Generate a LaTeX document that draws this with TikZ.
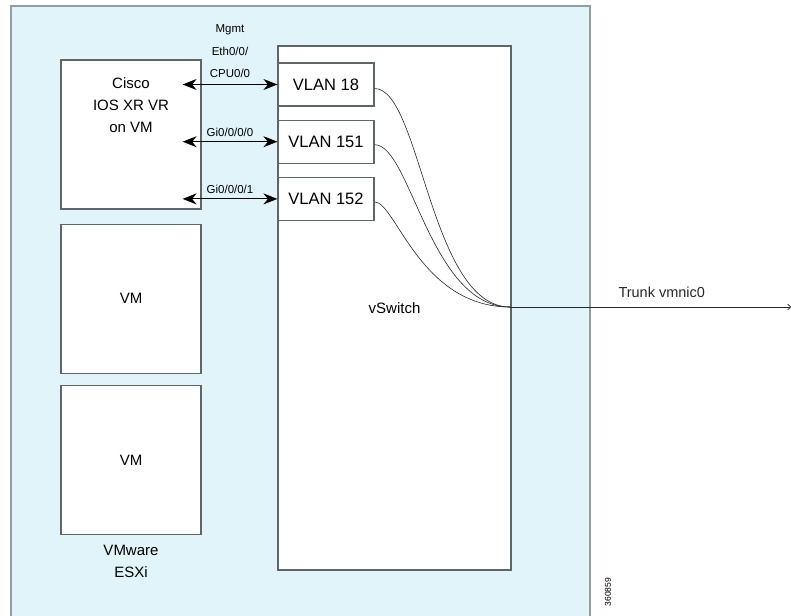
\documentclass[tikz,border=0pt]{standalone}
\usepackage{fontspec}
\setmainfont{Liberation Sans}
\usetikzlibrary{arrows.meta,positioning}
\definecolor{hostblue}{HTML}{E1F4FA}
\definecolor{hostedge}{HTML}{8E9EA2}
\definecolor{boxedge}{HTML}{5F6668}

\begin{document}
\begin{tikzpicture}[
    x=1pt, y=1pt,
    node distance=13pt,
    vmbox/.style={
        draw=boxedge,
        line width=1.2pt,
        fill=white,
        minimum width=140pt,
        minimum height=149pt,
        inner sep=0pt,
        font=\fontsize{15}{22}\selectfont
    },
    vlanbox/.style={
        draw=boxedge,
        line width=1.2pt,
        fill=white,
        minimum width=96pt,
        minimum height=43pt,
        inner sep=0pt,
        font=\fontsize{16.5}{19}\selectfont
    },
    caption/.style={align=center,inner sep=0pt,font=\fontsize{15}{22}\selectfont},
    portlabel/.style={align=center,inner sep=1pt,font=\fontsize{11.5}{22.5}\selectfont},
    dlink/.style={line width=1pt,arrows={Stealth[length=14pt,width=11pt,inset=4.5pt]-Stealth[length=14pt,width=11pt,inset=4.5pt]}},
    wire/.style={line width=0.6pt,black!85}
]
\useasboundingbox (0,0) rectangle (791,-615);

% ESXi host
\draw[hostedge,fill=hostblue,line width=1.5pt] (11,-6) rectangle (590,-640);

% virtual machines
\node[vmbox] (cisco) at (131,-134.5) {};
\node[caption,below=18pt of cisco.north] (ciscotext) {Cisco\\IOS XR VR\\on VM};
\node[vmbox,below=14pt of cisco] (vm1) {VM};
\node[vmbox,below=11pt of vm1] (vm2) {VM};
\node[caption,below=10pt of vm2] (esxitext) {VMware\\ESXi};

% switch and its ports
\node[vmbox,minimum width=233pt,minimum height=524pt] (vswitch) at (394.5,-308) {vSwitch};
\node[vlanbox,anchor=north west] (vlan18) at ([yshift=-17pt]vswitch.north west) {VLAN 18};
\node[vlanbox,below=of vlan18] (vlan151) {VLAN 151};
\node[vlanbox,below=of vlan151] (vlan152) {VLAN 152};

\coordinate (p18) at ([xshift=-19pt]cisco.east |- vlan18.west);
\coordinate (p151) at ([xshift=-19pt]cisco.east |- vlan151.west);
\coordinate (p152) at ([xshift=-19pt]cisco.east |- vlan152.west);
\coordinate (merge) at (510,-307);
\coordinate (uplink) at (791,-307);

\draw[dlink] (p18) -- (vlan18.west)
    node[portlabel,midway,above=5pt] {Mgmt\\Eth0/0/\\CPU0/0};
\draw[dlink] (p151) -- (vlan151.west)
    node[portlabel,midway,above=4pt] {Gi0/0/0/0};
\draw[dlink] (p152) -- (vlan152.west)
    node[portlabel,midway,above=4pt] {Gi0/0/0/1};

% trunk
\draw[wire] ([yshift=-4pt]vlan18.east) .. controls +(46,0) and +(-80,0) .. (merge);
\draw[wire] ([yshift=-3pt]vlan151.east) .. controls +(36,0) and +(-80,0) .. (merge);
\draw[wire] ([yshift=-3pt]vlan152.east) .. controls +(21,0) and +(-90,0) .. (merge);
\draw[wire,-{Straight Barb[length=3pt,width=6pt]}] (merge) -- (uplink)
    node[pos=0.54,above=6pt,font=\fontsize{14.5}{17}\selectfont] {Trunk vmnic0};

\node[rotate=90,font=\fontsize{8.5}{9}\selectfont] (figid) at (608,-592) {360859};
\end{tikzpicture}
\end{document}
